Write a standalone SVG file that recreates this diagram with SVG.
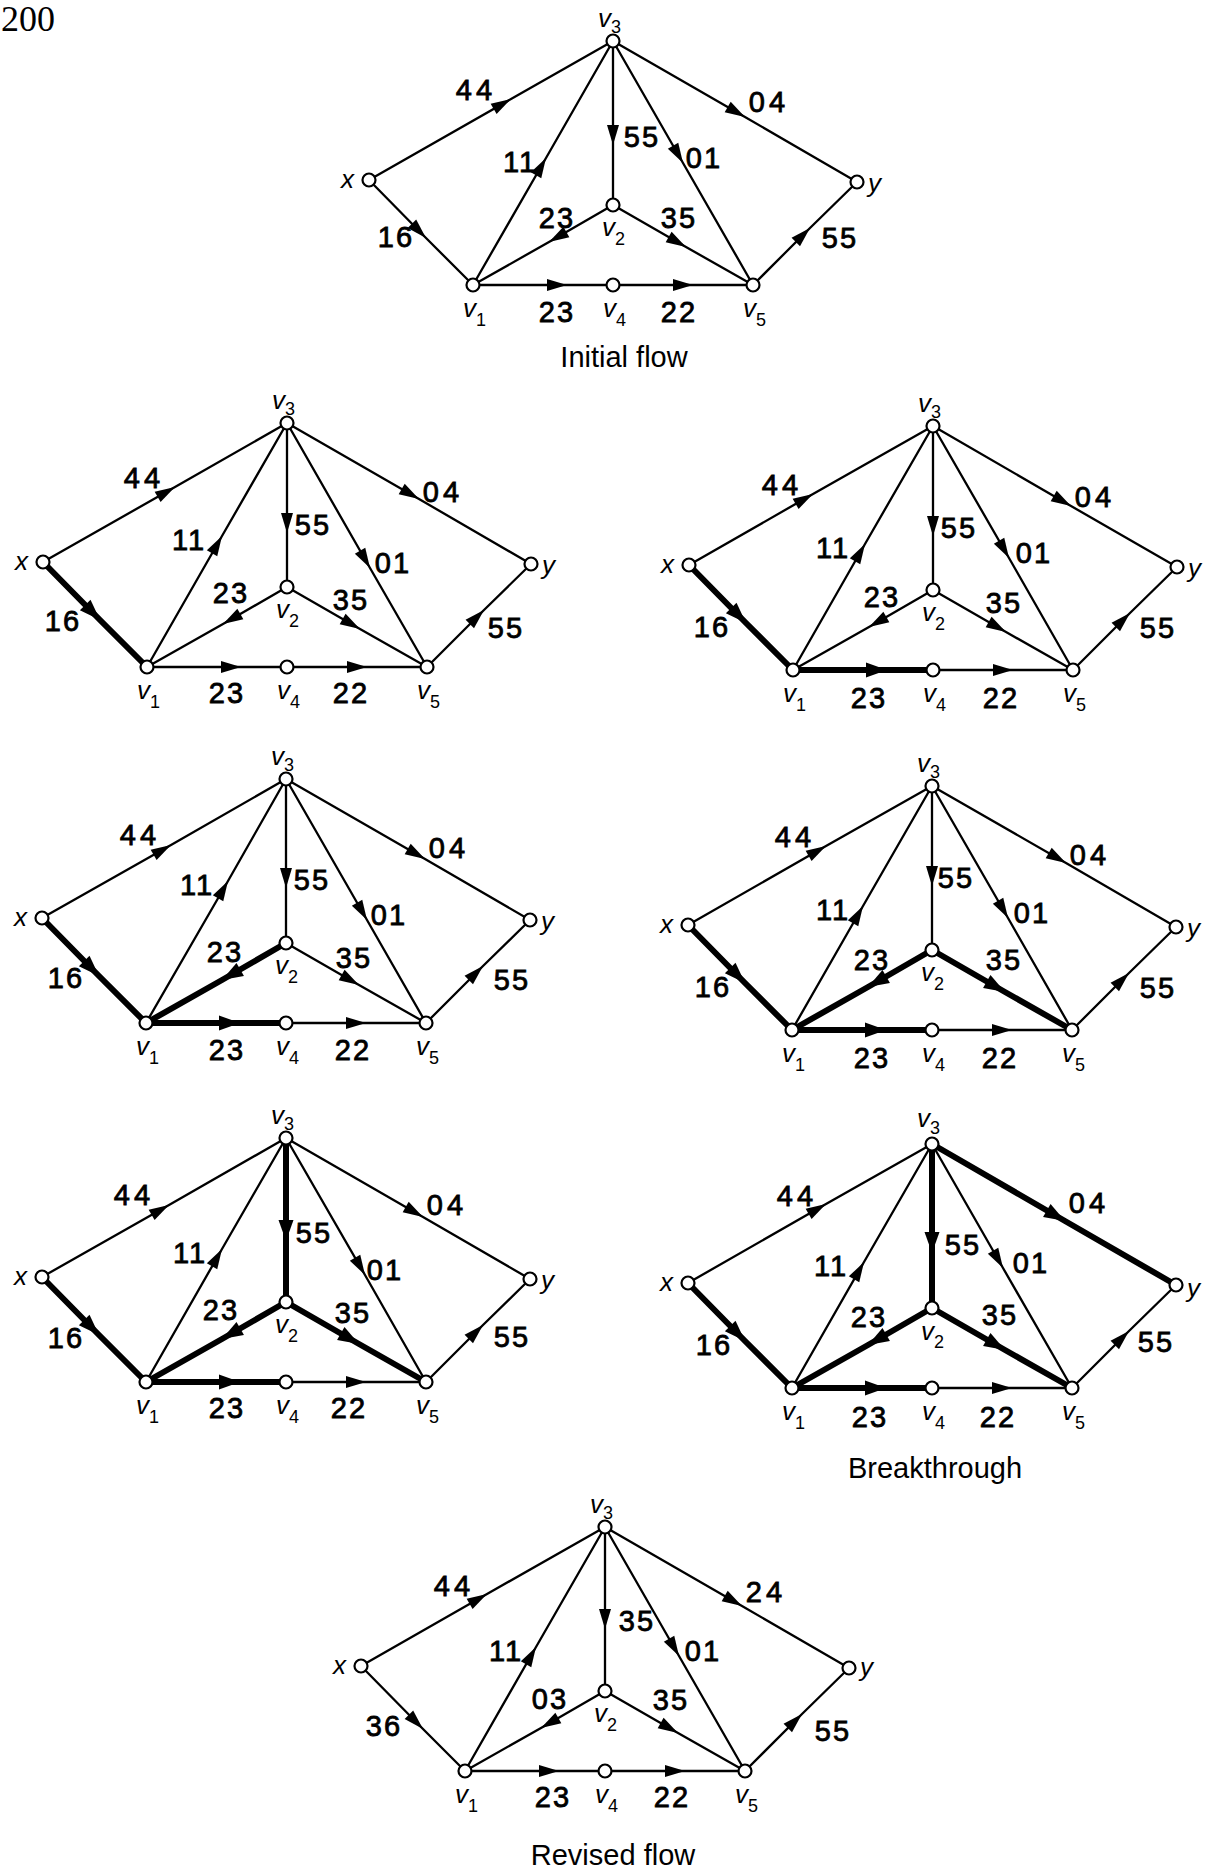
<svg xmlns="http://www.w3.org/2000/svg" width="1218" height="1871" viewBox="0 0 1218 1871">
<defs>
<marker id="ah" markerUnits="userSpaceOnUse" markerWidth="24" markerHeight="16" viewBox="-22 -8 24 16" refX="0" refY="0" orient="auto" overflow="visible"><path d="M0,0 L-20,-6 L-20,6 Z" fill="#000"/></marker>
<marker id="ahb" markerUnits="userSpaceOnUse" markerWidth="26" markerHeight="18" viewBox="-23 -9 26 18" refX="0" refY="0" orient="auto" overflow="visible"><path d="M0,0 L-21,-7.5 L-21,7.5 Z" fill="#000"/></marker>
</defs>
<style>
.e{fill:none;stroke:#000;stroke-width:2.3;stroke-linecap:round;marker-mid:url(#ah)}
.t{stroke-width:6;marker-mid:url(#ahb)}
.n circle{fill:#fff;stroke:#000;stroke-width:2.2}
.lb{font-family:"Liberation Sans",Arial,sans-serif;font-size:29px;text-anchor:middle;letter-spacing:2px;fill:#000;stroke:#000;stroke-width:0.8px}
.w{letter-spacing:4px}
.nl{font-family:"Liberation Sans",Arial,sans-serif;font-size:26px;font-style:italic;fill:#000}
.sb{font-size:18px;font-style:normal}
.ttl{font-family:"Liberation Sans",Arial,sans-serif;font-size:29px;text-anchor:middle;fill:#000}
</style>
<rect width="1218" height="1871" fill="#fff"/>
<text x="1" y="31" font-family="Liberation Serif, serif" font-size="36">200</text>

<!-- Panel 1: Initial flow -->
<g id="panel1" transform="translate(369,180)">
<g id="p1-edges">
<path class="e" d="M0,0 L142,-81 L244,-139"/>
<path class="e" d="M0,0 L57,58 L104,105"/>
<path class="e" d="M104,105 L177,-22 L244,-139"/>
<path class="e" d="M244,-139 L244,-35 L244,25"/>
<path class="e" d="M244,-139 L314,-17 L384,105"/>
<path class="e" d="M244,-139 L376,-63 L488,2"/>
<path class="e" d="M244,25 L180,62 L104,105"/>
<path class="e" d="M244,25 L317,67 L384,105"/>
<path class="e" d="M104,105 L198,105 L244,105"/>
<path class="e" d="M244,105 L324,105 L384,105"/>
<path class="e" d="M384,105 L441,48 L488,2"/>
</g>
<g id="p1-labels">
<text class="lb w" x="107" y="-80">44</text>
<text class="lb w" x="400" y="-68">04</text>
<text class="lb" x="151" y="-8">11</text>
<text class="lb" x="273" y="-33">55</text>
<text class="lb" x="335" y="-12">01</text>
<text class="lb" x="188" y="48">23</text>
<text class="lb" x="310" y="48">35</text>
<text class="lb" x="27" y="67">16</text>
<text class="lb" x="471" y="68">55</text>
<text class="lb" x="188" y="142">23</text>
<text class="lb" x="310" y="142">22</text>
</g>
<g id="p1-x" class="n"><circle cx="0" cy="0" r="6.5"/><text class="nl" x="-15" y="8" text-anchor="end">x</text></g>
<g id="p1-v3" class="n"><circle cx="244" cy="-139" r="6.5"/><text class="nl" x="229" y="-153">v<tspan class="sb" dy="6">3</tspan></text></g>
<g id="p1-y" class="n"><circle cx="488" cy="2" r="6.5"/><text class="nl" x="499" y="12">y</text></g>
<g id="p1-v2" class="n"><circle cx="244" cy="25" r="6.5"/><text class="nl" x="233" y="56">v<tspan class="sb" dy="9">2</tspan></text></g>
<g id="p1-v1" class="n"><circle cx="104" cy="105" r="6.5"/><text class="nl" x="94" y="137">v<tspan class="sb" dy="9">1</tspan></text></g>
<g id="p1-v4" class="n"><circle cx="244" cy="105" r="6.5"/><text class="nl" x="234" y="137">v<tspan class="sb" dy="9">4</tspan></text></g>
<g id="p1-v5" class="n"><circle cx="384" cy="105" r="6.5"/><text class="nl" x="374" y="137">v<tspan class="sb" dy="9">5</tspan></text></g>
</g>

<!-- Panel 2 -->
<g id="panel2" transform="translate(43,562)">
<g id="p2-edges">
<path class="e" d="M0,0 L132,-75 L244,-139"/>
<path class="e t" d="M0,0 L57,58 L104,105"/>
<path class="e" d="M104,105 L179,-26 L244,-139"/>
<path class="e" d="M244,-139 L244,-29 L244,25"/>
<path class="e" d="M244,-139 L327,6 L384,105"/>
<path class="e" d="M244,-139 L376,-63 L488,2"/>
<path class="e" d="M244,25 L180,62 L104,105"/>
<path class="e" d="M244,25 L317,67 L384,105"/>
<path class="e" d="M104,105 L198,105 L244,105"/>
<path class="e" d="M244,105 L324,105 L384,105"/>
<path class="e" d="M384,105 L441,48 L488,2"/>
</g>
<g id="p2-labels">
<text class="lb w" x="101" y="-74">44</text>
<text class="lb w" x="400" y="-60">04</text>
<text class="lb" x="146" y="-12">11</text>
<text class="lb" x="270" y="-27">55</text>
<text class="lb" x="350" y="11">01</text>
<text class="lb" x="188" y="41">23</text>
<text class="lb" x="308" y="48">35</text>
<text class="lb" x="20" y="69">16</text>
<text class="lb" x="463" y="76">55</text>
<text class="lb" x="184" y="141">23</text>
<text class="lb" x="308" y="141">22</text>
</g>
<g id="p2-x" class="n"><circle cx="0" cy="0" r="6.5"/><text class="nl" x="-15" y="8" text-anchor="end">x</text></g>
<g id="p2-v3" class="n"><circle cx="244" cy="-139" r="6.5"/><text class="nl" x="229" y="-153">v<tspan class="sb" dy="6">3</tspan></text></g>
<g id="p2-y" class="n"><circle cx="488" cy="2" r="6.5"/><text class="nl" x="499" y="12">y</text></g>
<g id="p2-v2" class="n"><circle cx="244" cy="25" r="6.5"/><text class="nl" x="233" y="56">v<tspan class="sb" dy="9">2</tspan></text></g>
<g id="p2-v1" class="n"><circle cx="104" cy="105" r="6.5"/><text class="nl" x="94" y="137">v<tspan class="sb" dy="9">1</tspan></text></g>
<g id="p2-v4" class="n"><circle cx="244" cy="105" r="6.5"/><text class="nl" x="234" y="137">v<tspan class="sb" dy="9">4</tspan></text></g>
<g id="p2-v5" class="n"><circle cx="384" cy="105" r="6.5"/><text class="nl" x="374" y="137">v<tspan class="sb" dy="9">5</tspan></text></g>
</g>

<!-- Panel 3 -->
<g id="panel3" transform="translate(689,565)">
<g id="p3-edges">
<path class="e" d="M0,0 L124,-71 L244,-139"/>
<path class="e t" d="M0,0 L57,58 L104,105"/>
<path class="e" d="M104,105 L176,-21 L244,-139"/>
<path class="e" d="M244,-139 L244,-29 L244,25"/>
<path class="e" d="M244,-139 L320,-7 L384,105"/>
<path class="e" d="M244,-139 L382,-59 L488,2"/>
<path class="e" d="M244,25 L180,62 L104,105"/>
<path class="e" d="M244,25 L317,67 L384,105"/>
<path class="e t" d="M104,105 L198,105 L244,105"/>
<path class="e" d="M244,105 L324,105 L384,105"/>
<path class="e" d="M384,105 L441,48 L488,2"/>
</g>
<g id="p3-labels">
<text class="lb w" x="93" y="-70">44</text>
<text class="lb w" x="406" y="-58">04</text>
<text class="lb" x="144" y="-7">11</text>
<text class="lb" x="270" y="-27">55</text>
<text class="lb" x="345" y="-2">01</text>
<text class="lb" x="193" y="42">23</text>
<text class="lb" x="315" y="48">35</text>
<text class="lb" x="23" y="72">16</text>
<text class="lb" x="469" y="73">55</text>
<text class="lb" x="180" y="143">23</text>
<text class="lb" x="312" y="143">22</text>
</g>
<g id="p3-x" class="n"><circle cx="0" cy="0" r="6.5"/><text class="nl" x="-15" y="8" text-anchor="end">x</text></g>
<g id="p3-v3" class="n"><circle cx="244" cy="-139" r="6.5"/><text class="nl" x="229" y="-153">v<tspan class="sb" dy="6">3</tspan></text></g>
<g id="p3-y" class="n"><circle cx="488" cy="2" r="6.5"/><text class="nl" x="499" y="12">y</text></g>
<g id="p3-v2" class="n"><circle cx="244" cy="25" r="6.5"/><text class="nl" x="233" y="56">v<tspan class="sb" dy="9">2</tspan></text></g>
<g id="p3-v1" class="n"><circle cx="104" cy="105" r="6.5"/><text class="nl" x="94" y="137">v<tspan class="sb" dy="9">1</tspan></text></g>
<g id="p3-v4" class="n"><circle cx="244" cy="105" r="6.5"/><text class="nl" x="234" y="137">v<tspan class="sb" dy="9">4</tspan></text></g>
<g id="p3-v5" class="n"><circle cx="384" cy="105" r="6.5"/><text class="nl" x="374" y="137">v<tspan class="sb" dy="9">5</tspan></text></g>
</g>

<!-- Panel 4 -->
<g id="panel4" transform="translate(42,918)">
<g id="p4-edges">
<path class="e" d="M0,0 L129,-73 L244,-139"/>
<path class="e t" d="M0,0 L57,58 L104,105"/>
<path class="e" d="M104,105 L186,-37 L244,-139"/>
<path class="e" d="M244,-139 L244,-30 L244,25"/>
<path class="e" d="M244,-139 L325,2 L384,105"/>
<path class="e" d="M244,-139 L383,-59 L488,2"/>
<path class="e t" d="M244,25 L180,62 L104,105"/>
<path class="e" d="M244,25 L317,67 L384,105"/>
<path class="e t" d="M104,105 L198,105 L244,105"/>
<path class="e" d="M244,105 L324,105 L384,105"/>
<path class="e" d="M384,105 L441,48 L488,2"/>
</g>
<g id="p4-labels">
<text class="lb w" x="98" y="-73">44</text>
<text class="lb w" x="407" y="-60">04</text>
<text class="lb" x="155" y="-23">11</text>
<text class="lb" x="270" y="-28">55</text>
<text class="lb" x="347" y="7">01</text>
<text class="lb" x="183" y="44">23</text>
<text class="lb" x="312" y="50">35</text>
<text class="lb" x="24" y="70">16</text>
<text class="lb" x="470" y="72">55</text>
<text class="lb" x="185" y="142">23</text>
<text class="lb" x="311" y="142">22</text>
</g>
<g id="p4-x" class="n"><circle cx="0" cy="0" r="6.5"/><text class="nl" x="-15" y="8" text-anchor="end">x</text></g>
<g id="p4-v3" class="n"><circle cx="244" cy="-139" r="6.5"/><text class="nl" x="229" y="-153">v<tspan class="sb" dy="6">3</tspan></text></g>
<g id="p4-y" class="n"><circle cx="488" cy="2" r="6.5"/><text class="nl" x="499" y="12">y</text></g>
<g id="p4-v2" class="n"><circle cx="244" cy="25" r="6.5"/><text class="nl" x="233" y="56">v<tspan class="sb" dy="9">2</tspan></text></g>
<g id="p4-v1" class="n"><circle cx="104" cy="105" r="6.5"/><text class="nl" x="94" y="137">v<tspan class="sb" dy="9">1</tspan></text></g>
<g id="p4-v4" class="n"><circle cx="244" cy="105" r="6.5"/><text class="nl" x="234" y="137">v<tspan class="sb" dy="9">4</tspan></text></g>
<g id="p4-v5" class="n"><circle cx="384" cy="105" r="6.5"/><text class="nl" x="374" y="137">v<tspan class="sb" dy="9">5</tspan></text></g>
</g>

<!-- Panel 5 -->
<g id="panel5" transform="translate(688,925)">
<g id="p5-edges">
<path class="e" d="M0,0 L138,-79 L244,-139"/>
<path class="e t" d="M0,0 L57,58 L104,105"/>
<path class="e" d="M104,105 L175,-19 L244,-139"/>
<path class="e" d="M244,-139 L244,-39 L244,25"/>
<path class="e" d="M244,-139 L320,-7 L384,105"/>
<path class="e" d="M244,-139 L378,-62 L488,2"/>
<path class="e t" d="M244,25 L180,62 L104,105"/>
<path class="e t" d="M244,25 L317,67 L384,105"/>
<path class="e t" d="M104,105 L198,105 L244,105"/>
<path class="e" d="M244,105 L324,105 L384,105"/>
<path class="e" d="M384,105 L441,48 L488,2"/>
</g>
<g id="p5-labels">
<text class="lb w" x="107" y="-78">44</text>
<text class="lb w" x="402" y="-60">04</text>
<text class="lb" x="145" y="-5">11</text>
<text class="lb" x="268" y="-37">55</text>
<text class="lb" x="344" y="-2">01</text>
<text class="lb" x="184" y="45">23</text>
<text class="lb" x="316" y="45">35</text>
<text class="lb" x="25" y="72">16</text>
<text class="lb" x="470" y="73">55</text>
<text class="lb" x="184" y="143">23</text>
<text class="lb" x="312" y="143">22</text>
</g>
<g id="p5-x" class="n"><circle cx="0" cy="0" r="6.5"/><text class="nl" x="-15" y="8" text-anchor="end">x</text></g>
<g id="p5-v3" class="n"><circle cx="244" cy="-139" r="6.5"/><text class="nl" x="229" y="-153">v<tspan class="sb" dy="6">3</tspan></text></g>
<g id="p5-y" class="n"><circle cx="488" cy="2" r="6.5"/><text class="nl" x="499" y="12">y</text></g>
<g id="p5-v2" class="n"><circle cx="244" cy="25" r="6.5"/><text class="nl" x="233" y="56">v<tspan class="sb" dy="9">2</tspan></text></g>
<g id="p5-v1" class="n"><circle cx="104" cy="105" r="6.5"/><text class="nl" x="94" y="137">v<tspan class="sb" dy="9">1</tspan></text></g>
<g id="p5-v4" class="n"><circle cx="244" cy="105" r="6.5"/><text class="nl" x="234" y="137">v<tspan class="sb" dy="9">4</tspan></text></g>
<g id="p5-v5" class="n"><circle cx="384" cy="105" r="6.5"/><text class="nl" x="374" y="137">v<tspan class="sb" dy="9">5</tspan></text></g>
</g>

<!-- Panel 6 -->
<g id="panel6" transform="translate(42,1277)">
<g id="p6-edges">
<path class="e" d="M0,0 L127,-72 L244,-139"/>
<path class="e t" d="M0,0 L57,58 L104,105"/>
<path class="e" d="M104,105 L180,-28 L244,-139"/>
<path class="e t" d="M244,-139 L244,-36 L244,25"/>
<path class="e" d="M244,-139 L323,-2 L384,105"/>
<path class="e" d="M244,-139 L381,-60 L488,2"/>
<path class="e t" d="M244,25 L180,62 L104,105"/>
<path class="e t" d="M244,25 L317,67 L384,105"/>
<path class="e t" d="M104,105 L198,105 L244,105"/>
<path class="e" d="M244,105 L324,105 L384,105"/>
<path class="e" d="M384,105 L441,48 L488,2"/>
</g>
<g id="p6-labels">
<text class="lb w" x="92" y="-72">44</text>
<text class="lb w" x="405" y="-62">04</text>
<text class="lb" x="148" y="-14">11</text>
<text class="lb" x="272" y="-34">55</text>
<text class="lb" x="343" y="3">01</text>
<text class="lb" x="179" y="43">23</text>
<text class="lb" x="311" y="46">35</text>
<text class="lb" x="24" y="71">16</text>
<text class="lb" x="470" y="70">55</text>
<text class="lb" x="185" y="141">23</text>
<text class="lb" x="307" y="141">22</text>
</g>
<g id="p6-x" class="n"><circle cx="0" cy="0" r="6.5"/><text class="nl" x="-15" y="8" text-anchor="end">x</text></g>
<g id="p6-v3" class="n"><circle cx="244" cy="-139" r="6.5"/><text class="nl" x="229" y="-153">v<tspan class="sb" dy="6">3</tspan></text></g>
<g id="p6-y" class="n"><circle cx="488" cy="2" r="6.5"/><text class="nl" x="499" y="12">y</text></g>
<g id="p6-v2" class="n"><circle cx="244" cy="25" r="6.5"/><text class="nl" x="233" y="56">v<tspan class="sb" dy="9">2</tspan></text></g>
<g id="p6-v1" class="n"><circle cx="104" cy="105" r="6.5"/><text class="nl" x="94" y="137">v<tspan class="sb" dy="9">1</tspan></text></g>
<g id="p6-v4" class="n"><circle cx="244" cy="105" r="6.5"/><text class="nl" x="234" y="137">v<tspan class="sb" dy="9">4</tspan></text></g>
<g id="p6-v5" class="n"><circle cx="384" cy="105" r="6.5"/><text class="nl" x="374" y="137">v<tspan class="sb" dy="9">5</tspan></text></g>
</g>

<!-- Panel 7: Breakthrough -->
<g id="panel7" transform="translate(688,1283)">
<g id="p7-edges">
<path class="e" d="M0,0 L138,-79 L244,-139"/>
<path class="e t" d="M0,0 L57,58 L104,105"/>
<path class="e" d="M104,105 L176,-21 L244,-139"/>
<path class="e t" d="M244,-139 L244,-30 L244,25"/>
<path class="e" d="M244,-139 L315,-15 L384,105"/>
<path class="e t" d="M244,-139 L377,-62 L488,2"/>
<path class="e t" d="M244,25 L180,62 L104,105"/>
<path class="e t" d="M244,25 L317,67 L384,105"/>
<path class="e t" d="M104,105 L198,105 L244,105"/>
<path class="e" d="M244,105 L324,105 L384,105"/>
<path class="e" d="M384,105 L441,48 L488,2"/>
</g>
<g id="p7-labels">
<text class="lb w" x="109" y="-77">44</text>
<text class="lb w" x="401" y="-70">04</text>
<text class="lb" x="143" y="-7">11</text>
<text class="lb" x="275" y="-28">55</text>
<text class="lb" x="343" y="-10">01</text>
<text class="lb" x="181" y="44">23</text>
<text class="lb" x="312" y="42">35</text>
<text class="lb" x="26" y="72">16</text>
<text class="lb" x="468" y="69">55</text>
<text class="lb" x="182" y="144">23</text>
<text class="lb" x="310" y="144">22</text>
</g>
<g id="p7-x" class="n"><circle cx="0" cy="0" r="6.5"/><text class="nl" x="-15" y="8" text-anchor="end">x</text></g>
<g id="p7-v3" class="n"><circle cx="244" cy="-139" r="6.5"/><text class="nl" x="229" y="-156">v<tspan class="sb" dy="7">3</tspan></text></g>
<g id="p7-y" class="n"><circle cx="488" cy="2" r="6.5"/><text class="nl" x="499" y="14">y</text></g>
<g id="p7-v2" class="n"><circle cx="244" cy="25" r="6.5"/><text class="nl" x="233" y="57">v<tspan class="sb" dy="8">2</tspan></text></g>
<g id="p7-v1" class="n"><circle cx="104" cy="105" r="6.5"/><text class="nl" x="94" y="137">v<tspan class="sb" dy="9">1</tspan></text></g>
<g id="p7-v4" class="n"><circle cx="244" cy="105" r="6.5"/><text class="nl" x="234" y="137">v<tspan class="sb" dy="9">4</tspan></text></g>
<g id="p7-v5" class="n"><circle cx="384" cy="105" r="6.5"/><text class="nl" x="374" y="137">v<tspan class="sb" dy="9">5</tspan></text></g>
</g>

<!-- Panel 8: Revised flow -->
<g id="panel8" transform="translate(361,1666)">
<g id="p8-edges">
<path class="e" d="M0,0 L126,-72 L244,-139"/>
<path class="e" d="M0,0 L62,63 L104,105"/>
<path class="e" d="M104,105 L175,-19 L244,-139"/>
<path class="e" d="M244,-139 L244,-37 L244,25"/>
<path class="e" d="M244,-139 L318,-10 L384,105"/>
<path class="e" d="M244,-139 L381,-60 L488,2"/>
<path class="e" d="M244,25 L180,62 L104,105"/>
<path class="e" d="M244,25 L317,67 L384,105"/>
<path class="e" d="M104,105 L198,105 L244,105"/>
<path class="e" d="M244,105 L324,105 L384,105"/>
<path class="e" d="M384,105 L441,48 L488,2"/>
</g>
<g id="p8-labels">
<text class="lb w" x="93" y="-70">44</text>
<text class="lb w" x="405" y="-64">24</text>
<text class="lb" x="145" y="-5">11</text>
<text class="lb" x="276" y="-35">35</text>
<text class="lb" x="342" y="-5">01</text>
<text class="lb" x="189" y="43">03</text>
<text class="lb" x="310" y="44">35</text>
<text class="lb" x="23" y="70">36</text>
<text class="lb" x="472" y="75">55</text>
<text class="lb" x="192" y="141">23</text>
<text class="lb" x="311" y="141">22</text>
</g>
<g id="p8-x" class="n"><circle cx="0" cy="0" r="6.5"/><text class="nl" x="-15" y="8" text-anchor="end">x</text></g>
<g id="p8-v3" class="n"><circle cx="244" cy="-139" r="6.5"/><text class="nl" x="229" y="-153">v<tspan class="sb" dy="6">3</tspan></text></g>
<g id="p8-y" class="n"><circle cx="488" cy="2" r="6.5"/><text class="nl" x="499" y="10">y</text></g>
<g id="p8-v2" class="n"><circle cx="244" cy="25" r="6.5"/><text class="nl" x="233" y="56">v<tspan class="sb" dy="9">2</tspan></text></g>
<g id="p8-v1" class="n"><circle cx="104" cy="105" r="6.5"/><text class="nl" x="94" y="137">v<tspan class="sb" dy="9">1</tspan></text></g>
<g id="p8-v4" class="n"><circle cx="244" cy="105" r="6.5"/><text class="nl" x="234" y="137">v<tspan class="sb" dy="9">4</tspan></text></g>
<g id="p8-v5" class="n"><circle cx="384" cy="105" r="6.5"/><text class="nl" x="374" y="137">v<tspan class="sb" dy="9">5</tspan></text></g>
</g>

<g id="titles">
<text class="ttl" x="624" y="367">Initial flow</text>
<text class="ttl" x="935" y="1478">Breakthrough</text>
<text class="ttl" x="613" y="1865">Revised flow</text>
</g>
</svg>
